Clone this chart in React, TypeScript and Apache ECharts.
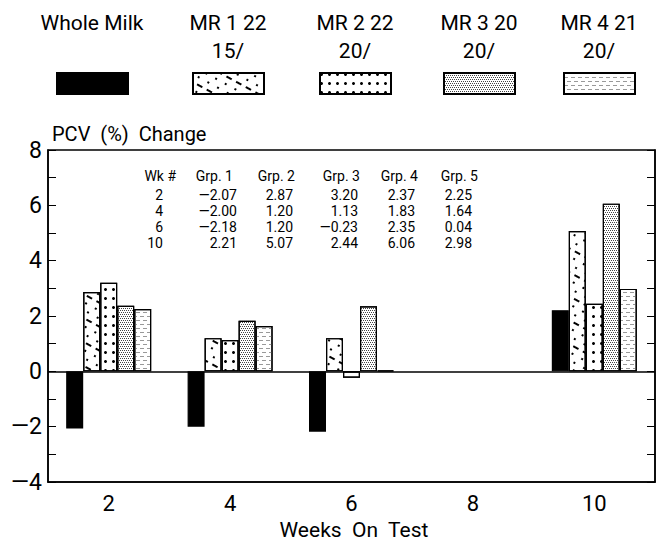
import React, { useEffect, useRef } from "react";
import * as echarts from "echarts";

const weeks = ["2", "4", "6", "8", "10"];
const seriesNames = ["Whole Milk", "MR 1 22 15/", "MR 2 22 20/", "MR 3 20 20/", "MR 4 21 20/"];
const legendLine1 = ["Whole Milk", "MR 1 22", "MR 2 22", "MR 3 20", "MR 4 21"];
const legendLine2 = ["", "15/", "20/", "20/", "20/"];
const wholeMilk = [-2.07, -2.0, -2.18, null, 2.21];
const mr1 = [2.87, 1.2, 1.2, null, 5.07];
const mr2 = [3.2, 1.13, -0.23, null, 2.44];
const mr3 = [2.37, 1.83, 2.35, null, 6.06];
const mr4 = [2.25, 1.64, 0.04, null, 2.98];
const tableHeader = ["Wk #", "Grp. 1", "Grp. 2", "Grp. 3", "Grp. 4", "Grp. 5"];
const tableWeeks = ["2", "4", "6", "10"];

const FONT = "Roboto, 'Liberation Sans', sans-serif";

const fmt = (v: number) => (v < 0 ? "\u2014" + Math.abs(v).toFixed(2) : v.toFixed(2));

export default function App() {
  const ref = useRef<HTMLDivElement>(null);
  useEffect(() => {
    if (!ref.current) return;
    const chart = echarts.init(ref.current, null, { renderer: "svg" });
    const allSeries = [wholeMilk, mr1, mr2, mr3, mr4];
    const decals: any[] = [
      null,
      {
        symbol: "rect",
        symbolSize: 1,
        symbolKeepAspect: false,
        color: "#000",
        backgroundColor: "#fff",
        dashArrayX: [[2, 9], [0, 6, 2, 3], [4, 5, 2, 0]],
        dashArrayY: [2, 5],
        rotation: 0.5,
      },
      {
        symbol: "circle",
        symbolSize: 1,
        color: "#000",
        backgroundColor: "#fff",
        dashArrayX: [2.5, 4.5],
        dashArrayY: [2.5, 6],
      },
      {
        symbol: "rect",
        symbolSize: 1,
        symbolKeepAspect: false,
        color: "#444",
        backgroundColor: "#fff",
        dashArrayX: [[1, 1], [0, 1, 1, 0]],
        dashArrayY: [1, 1],
      },
      {
        symbol: "rect",
        symbolSize: 1,
        symbolKeepAspect: false,
        color: "#999",
        backgroundColor: "#fff",
        dashArrayX: [[4, 3], [0, 3, 4, 0]],
        dashArrayY: [1, 3],
      },
    ];
    const series: any[] = allSeries.map((d, i) => ({
      name: seriesNames[i],
      type: "bar",
      data: d,
      barWidth: 17,
      barGap: "0%",
      itemStyle: {
        color: i === 0 ? "#000" : "#fff",
        borderColor: "#000",
        borderWidth: 1.2,
        ...(decals[i] ? { decal: decals[i] } : {}),
      },
      ...(i === 0
        ? {
            markLine: {
              silent: true,
              symbol: "none",
              label: { show: false },
              lineStyle: { color: "#000", width: 1.5, type: "solid" },
              data: [{ yAxis: 0 }],
            },
          }
        : {}),
    }));

    const boxLeft = [56, 192, 319, 443, 563];
    const legends = seriesNames.map((n, i) => ({
      data: [n],
      left: boxLeft[i],
      top: 72,
      padding: 0,
      itemWidth: 71,
      itemHeight: 21,
      icon: "rect",
      selectedMode: false,
      formatter: () => "",
    }));

    const graphics: any[] = [];
    legendLine1.forEach((t, i) => {
      const cx = boxLeft[i] + 36;
      graphics.push({
        type: "text",
        style: { text: t, x: cx, y: 23, textAlign: "center", verticalAlign: "middle", font: `21px ${FONT}`, fill: "#000" },
      });
      if (legendLine2[i])
        graphics.push({
          type: "text",
          style: { text: legendLine2[i], x: cx, y: 51, textAlign: "center", verticalAlign: "middle", font: `21px ${FONT}`, fill: "#000" },
        });
    });
    const colRight = [176, 233, 295, 360, 418, 478];
    const numRight = [163, 237, 293, 358, 415, 472];
    const rowY = [176, 195, 211, 227, 243];
    tableHeader.forEach((h, c) => {
      graphics.push({
        type: "text",
        style: { text: h, x: colRight[c], y: rowY[0], textAlign: "right", verticalAlign: "middle", font: `14px ${FONT}`, fill: "#000" },
      });
    });
    tableWeeks.forEach((w, r) => {
      const idx = weeks.indexOf(w);
      const cells = [w, ...allSeries.map((s) => fmt(s[idx] as number))];
      cells.forEach((t, c) => {
        graphics.push({
          type: "text",
          style: { text: t, x: numRight[c], y: rowY[r + 1], textAlign: "right", verticalAlign: "middle", font: `14px ${FONT}`, fill: "#000" },
        });
      });
    });
    graphics.push({
      type: "text",
      style: { text: "PCV  (%)  Change", x: 52, y: 134, textAlign: "left", verticalAlign: "middle", font: `20px ${FONT}`, fill: "#000" },
    });
    graphics.push({
      type: "text",
      style: { text: "Weeks  On  Test", x: 354, y: 530, textAlign: "center", verticalAlign: "middle", font: `21px ${FONT}`, fill: "#000" },
    });

    const yLabel = (v: number) => (v % 2 !== 0 ? "" : v < 0 ? "\u2014" + Math.abs(v) : String(v));

    chart.setOption({
      animation: false,
      backgroundColor: "#fff",
      legend: legends,
      grid: { left: 48, right: 5, top: 150, bottom: 64, show: true, borderColor: "#000", borderWidth: 1.5 },
      xAxis: {
        type: "category",
        data: weeks,
        axisLine: { onZero: false, lineStyle: { color: "#000", width: 1.5 } },
        axisTick: { show: false },
        axisLabel: { color: "#000", fontSize: 22, fontFamily: FONT, margin: 10 },
      },
      yAxis: [
        {
          type: "value",
          min: -4,
          max: 8,
          interval: 1,
          position: "left",
          axisLine: { show: true, lineStyle: { color: "#000", width: 1.5 } },
          axisTick: { show: true, inside: true, length: 8, lineStyle: { color: "#000" } },
          splitLine: { show: false },
          axisLabel: { color: "#000", fontSize: 23, fontFamily: FONT, margin: 6, formatter: yLabel },
        },
        {
          type: "value",
          min: -4,
          max: 8,
          interval: 1,
          position: "right",
          axisLine: { show: true, lineStyle: { color: "#000", width: 1.5 } },
          axisTick: { show: true, inside: true, length: 8, lineStyle: { color: "#000" } },
          splitLine: { show: false },
          axisLabel: { show: false },
        },
      ],
      series,
      graphic: graphics,
    });
    return () => chart.dispose();
  }, []);
  return <div ref={ref} style={{ width: 660, height: 546, position: "absolute", left: 0, top: 0 }} />;
}
